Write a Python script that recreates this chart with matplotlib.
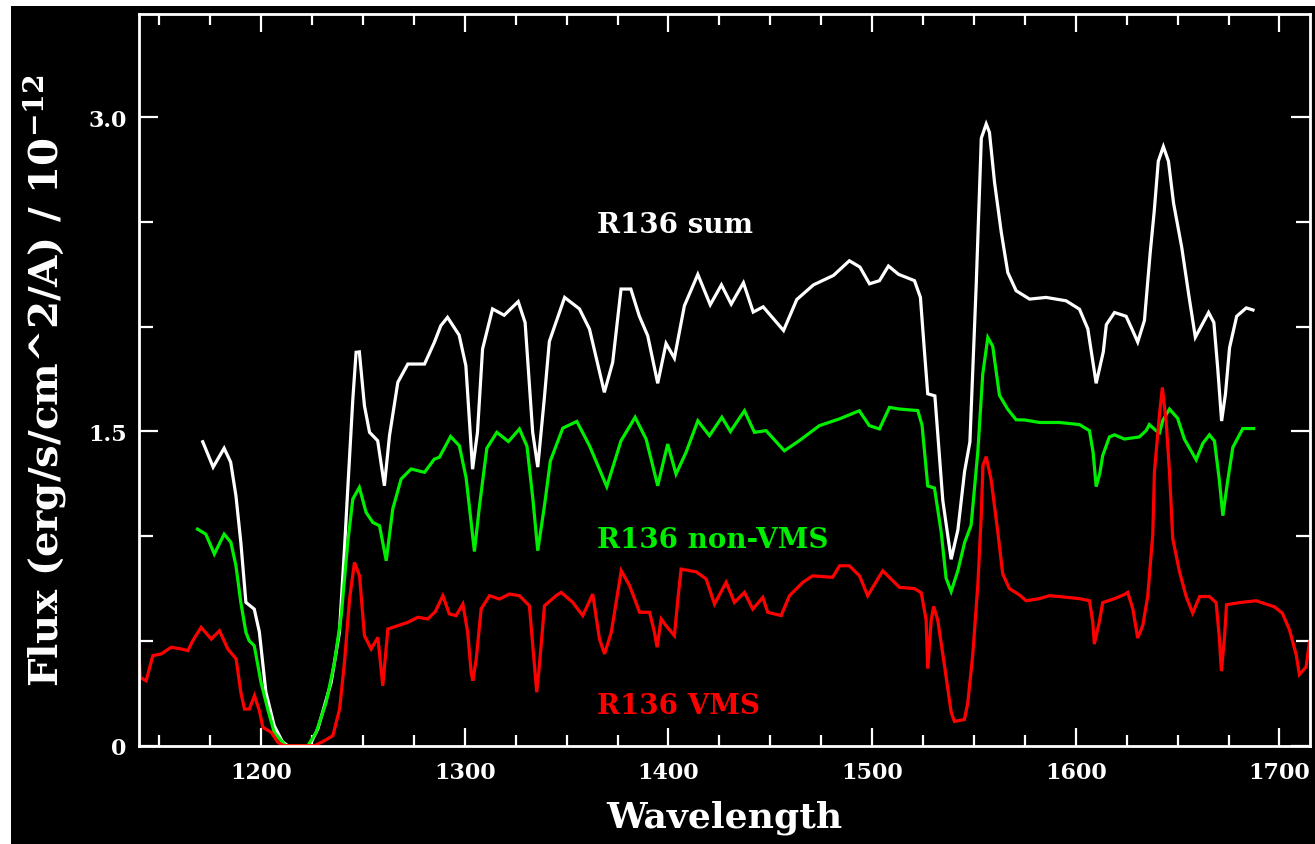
import numpy as np
import matplotlib
matplotlib.use("Agg")
import matplotlib.pyplot as plt
from matplotlib.patches import Rectangle
from matplotlib.ticker import MultipleLocator, FixedLocator

plt.rcParams['font.family'] = ['DejaVu Serif']
plt.rcParams['font.weight'] = 'bold'
plt.rcParams['mathtext.default'] = 'regular'

# R136 sum (white)
wl_sum = [1171.3, 1176.4, 1181.8, 1185.0, 1187.6, 1190.0, 1192.5, 1196.6, 1199.1,
          1202.3, 1206.4, 1210.5, 1213.0, 1223.7, 1227.8, 1234.3, 1238.4, 1240.9,
          1242.5, 1245.0, 1246.6, 1248.2, 1250.7, 1253.2, 1257.2, 1260.5, 1263.0,
          1267.1, 1272.0, 1280.2, 1285.0, 1288.2, 1291.5, 1297.2, 1300.5, 1303.8,
          1306.2, 1308.7, 1313.6, 1319.3, 1326.2, 1329.6, 1333.3, 1335.8, 1339.0,
          1341.5, 1349.0, 1356.3, 1361.2, 1368.5, 1372.6, 1376.7, 1381.5, 1385.7,
          1389.8, 1394.7, 1398.8, 1402.9, 1407.8, 1414.4, 1420.5, 1426.0, 1430.8,
          1436.8, 1441.6, 1446.5, 1456.5, 1463.0, 1471.2, 1481.0, 1488.8, 1494.0,
          1498.7, 1503.6, 1508.0, 1513.0, 1520.8, 1523.7, 1525.7, 1527.3, 1530.8,
          1534.7, 1538.8, 1542.1, 1545.4, 1548.0, 1551.1, 1553.6, 1556.0, 1557.6,
          1560.1, 1563.4, 1566.6, 1570.7, 1577.3, 1585.4, 1595.2, 1601.8, 1605.9,
          1610.0, 1613.5, 1615.0, 1619.0, 1624.7, 1628.0, 1630.4, 1633.7, 1636.5,
          1638.5, 1640.5, 1643.0, 1645.5, 1648.0, 1652.0, 1655.5, 1658.7, 1662.0,
          1665.2, 1667.8, 1669.7, 1671.6, 1673.5, 1675.5, 1679.0, 1683.7, 1687.0]
fl_sum = [1.451, 1.330, 1.420, 1.354, 1.193, 0.971, 0.684, 0.652, 0.543,
          0.256, 0.095, 0.018, 0.0, 0.0, 0.08, 0.30, 0.54, 0.94,
          1.225, 1.655, 1.878, 1.88, 1.623, 1.496, 1.456, 1.241, 1.48,
          1.735, 1.822, 1.822, 1.925, 2.005, 2.045, 1.96, 1.814, 1.32,
          1.496, 1.894, 2.085, 2.055, 2.12, 2.02, 1.497, 1.33, 1.655,
          1.93, 2.14, 2.085, 1.989, 1.687, 1.83, 2.18, 2.18, 2.05,
          1.957, 1.73, 1.92, 1.85, 2.10, 2.25, 2.105, 2.20, 2.108,
          2.21, 2.07, 2.095, 1.982, 2.13, 2.20, 2.245, 2.315, 2.285,
          2.205, 2.22, 2.29, 2.25, 2.22, 2.14, 1.88, 1.68, 1.67,
          1.17, 0.89, 1.03, 1.31, 1.45, 2.20, 2.90, 2.968, 2.928,
          2.689, 2.451, 2.259, 2.172, 2.132, 2.14, 2.124, 2.084, 1.99,
          1.73, 1.88, 2.01, 2.068, 2.05, 1.98, 1.927, 2.03, 2.35,
          2.55, 2.79, 2.86, 2.79, 2.59, 2.38, 2.15, 1.95, 2.01,
          2.068, 2.02, 1.80, 1.55, 1.68, 1.90, 2.05, 2.09, 2.08]

# R136 non-VMS (green)
wl_non = [1168.7, 1172.8, 1177.0, 1181.8, 1185.1, 1187.6, 1190.0, 1192.5, 1194.1,
          1196.6, 1199.9, 1203.2, 1206.4, 1210.5, 1212.0, 1222.9, 1227.0, 1231.9,
          1236.0, 1239.3, 1242.5, 1245.0, 1248.2, 1251.5, 1254.8, 1258.1, 1261.4,
          1264.6, 1268.7, 1273.6, 1280.2, 1285.0, 1287.5, 1293.0, 1297.3, 1300.6,
          1304.7, 1307.2, 1310.8, 1315.7, 1321.4, 1326.8, 1330.5, 1333.4, 1335.8,
          1339.1, 1342.0, 1348.1, 1355.0, 1361.2, 1369.7, 1376.7, 1383.6, 1389.0,
          1394.7, 1399.6, 1403.7, 1408.6, 1414.4, 1420.1, 1426.2, 1430.4, 1437.3,
          1442.2, 1447.9, 1456.9, 1464.2, 1474.1, 1483.9, 1493.7, 1498.6, 1503.6,
          1508.5, 1513.4, 1522.4, 1524.5, 1527.3, 1530.6, 1533.9, 1536.3, 1538.8,
          1542.1, 1545.4, 1548.6, 1551.9, 1554.3, 1556.8, 1559.2, 1562.5, 1566.6,
          1570.7, 1575.0, 1582.1, 1591.9, 1601.8, 1606.7, 1608.5, 1610.0, 1611.8,
          1613.2, 1616.5, 1619.0, 1623.9, 1631.2, 1634.5, 1636.1, 1639.4, 1641.1,
          1642.7, 1646.0, 1650.0, 1653.3, 1659.1, 1662.4, 1665.6, 1668.1, 1670.5,
          1672.2, 1674.6, 1677.1, 1682.0, 1687.3]
fl_non = [1.034, 1.01, 0.915, 1.01, 0.971, 0.859, 0.684, 0.541, 0.501,
          0.477, 0.303, 0.175, 0.064, 0.016, 0.0, 0.0, 0.064, 0.207,
          0.398, 0.621, 0.971, 1.178, 1.233, 1.114, 1.066, 1.05, 0.883,
          1.13, 1.273, 1.321, 1.305, 1.368, 1.377, 1.476, 1.432, 1.28,
          0.927, 1.146, 1.42, 1.496, 1.452, 1.512, 1.43, 1.178, 0.931,
          1.146, 1.36, 1.516, 1.548, 1.432, 1.237, 1.456, 1.568, 1.464,
          1.241, 1.44, 1.297, 1.40, 1.551, 1.48, 1.568, 1.50, 1.599,
          1.496, 1.504, 1.408, 1.456, 1.528, 1.56, 1.599, 1.528, 1.512,
          1.615, 1.607, 1.60, 1.53, 1.24, 1.23, 1.02, 0.80, 0.736,
          0.836, 0.97, 1.053, 1.405, 1.773, 1.949, 1.907, 1.673, 1.606,
          1.556, 1.555, 1.543, 1.543, 1.533, 1.504, 1.40, 1.237, 1.30,
          1.385, 1.474, 1.484, 1.464, 1.474, 1.504, 1.533, 1.504, 1.494,
          1.553, 1.607, 1.563, 1.464, 1.365, 1.444, 1.484, 1.454, 1.266,
          1.098, 1.266, 1.424, 1.514, 1.514]

# R136 VMS (red)
wl_vms = [1140.2, 1140.6, 1143.5, 1146.8, 1150.9, 1155.8, 1160.7, 1164.0, 1166.4,
          1170.5, 1175.5, 1179.5, 1183.6, 1187.7, 1190.0, 1191.8, 1194.2, 1196.7,
          1199.1, 1200.8, 1204.9, 1208.2, 1211.0, 1226.2, 1231.1, 1235.2, 1238.5,
          1240.9, 1243.4, 1245.8, 1248.3, 1250.7, 1254.0, 1257.3, 1259.7, 1262.2,
          1267.1, 1272.0, 1276.9, 1281.8, 1285.5, 1289.2, 1292.4, 1295.7, 1299.0,
          1301.4, 1303.1, 1303.9, 1305.6, 1308.0, 1312.1, 1317.0, 1321.9, 1326.8,
          1331.7, 1334.2, 1335.3, 1336.6, 1339.1, 1344.8, 1347.3, 1353.0, 1357.9,
          1362.8, 1366.1, 1368.6, 1371.9, 1376.8, 1380.9, 1385.8, 1390.7, 1393.1,
          1394.4, 1396.4, 1398.8, 1402.9, 1404.6, 1406.2, 1413.6, 1418.5, 1422.6,
          1428.3, 1432.4, 1437.3, 1441.4, 1446.3, 1448.7, 1455.3, 1459.4, 1466.0,
          1470.8, 1480.6, 1484.0, 1488.8, 1493.8, 1497.8, 1505.2, 1513.4, 1520.8,
          1524.1, 1526.5, 1527.3, 1529.0, 1530.2, 1532.2, 1535.5, 1538.8, 1540.4,
          1545.3, 1546.9, 1549.4, 1551.9, 1553.6, 1554.4, 1556.0, 1558.4, 1561.7,
          1564.1, 1567.4, 1572.3, 1575.6, 1582.1, 1587.0, 1591.9, 1601.8, 1606.7,
          1608.3, 1609.1, 1611.6, 1613.2, 1619.0, 1623.9, 1625.5, 1628.0, 1630.4,
          1632.9, 1635.3, 1637.8, 1638.6, 1641.1, 1642.5, 1644.4, 1646.0, 1647.6,
          1650.9, 1654.2, 1657.4, 1660.8, 1665.6, 1668.9, 1670.5, 1671.5, 1673.0,
          1674.0, 1680.3, 1688.5, 1697.5, 1701.4, 1704.9, 1708.2, 1709.8, 1713.1,
          1714.7, 1716.0]
fl_vms = [0.398, 0.326, 0.31, 0.43, 0.438, 0.47, 0.462, 0.454, 0.501,
          0.565, 0.509, 0.549, 0.462, 0.414, 0.255, 0.175, 0.175, 0.239,
          0.167, 0.088, 0.064, 0.016, 0.0, 0.0, 0.024, 0.048, 0.175,
          0.398, 0.70, 0.875, 0.811, 0.525, 0.462, 0.517, 0.286, 0.557,
          0.573, 0.589, 0.613, 0.605, 0.64, 0.716, 0.629, 0.621, 0.676,
          0.541, 0.35, 0.31, 0.414, 0.653, 0.716, 0.70, 0.724, 0.716,
          0.668, 0.382, 0.255, 0.382, 0.668, 0.716, 0.732, 0.684, 0.621,
          0.724, 0.509, 0.438, 0.541, 0.835, 0.764, 0.637, 0.637, 0.541,
          0.47, 0.605, 0.573, 0.525, 0.70, 0.843, 0.83, 0.796, 0.676,
          0.78, 0.684, 0.732, 0.652, 0.708, 0.637, 0.621, 0.716, 0.78,
          0.811, 0.804, 0.859, 0.859, 0.811, 0.716, 0.835, 0.756, 0.75,
          0.73, 0.60, 0.368, 0.60, 0.665, 0.60, 0.384, 0.16, 0.116,
          0.125, 0.2, 0.434, 0.769, 1.104, 1.338, 1.38, 1.271, 1.02,
          0.82, 0.75, 0.72, 0.692, 0.702, 0.716, 0.712, 0.702, 0.692,
          0.593, 0.485, 0.593, 0.683, 0.702, 0.722, 0.732, 0.653, 0.514,
          0.574, 0.712, 1.009, 1.306, 1.583, 1.71, 1.543, 1.306, 0.989,
          0.831, 0.712, 0.633, 0.712, 0.712, 0.683, 0.514, 0.356, 0.514,
          0.673, 0.683, 0.692, 0.663, 0.633, 0.554, 0.435, 0.34, 0.376,
          0.494, 0.52]

series = [(wl_sum, fl_sum, '#ffffff', 'R136 sum', 2.452),
          (wl_non, fl_non, '#00ee00', 'R136 non-VMS', 0.948),
          (wl_vms, fl_vms, '#ff0000', 'R136 VMS', 0.156)]

fig = plt.figure(figsize=(13.15, 8.45), dpi=100)
fig.patch.set_facecolor('white')
# black canvas, leaving the thin white margin at top and left
fig.patches.append(Rectangle((11 / 1315, 0), 1, 1 - 7 / 845, transform=fig.transFigure,
                             facecolor='black', edgecolor='none', zorder=-10))

ax = fig.add_axes([139 / 1315, 1 - 746.7 / 845, (1310 - 139) / 1315, (746.7 - 15) / 845])
ax.set_facecolor('black')

for wl, fl, color, label, ylab in series:
    ax.plot(wl, fl, color=color, lw=2.3, solid_joinstyle='miter')
    ax.text(1365.1, ylab, label, color=color, fontsize=20, fontweight='bold',
            ha='left', va='baseline')

ax.set_xlim(1140, 1715)
ax.set_ylim(0, 3.493)

ax.xaxis.set_major_locator(MultipleLocator(100))
ax.xaxis.set_minor_locator(MultipleLocator(25))
ax.yaxis.set_major_locator(FixedLocator([0, 1.5, 3.0]))
ax.yaxis.set_minor_locator(MultipleLocator(0.5))
ax.set_yticklabels(['0', '1.5', '3.0'])

for s in ax.spines.values():
    s.set_color('white')
    s.set_linewidth(2.0)

ax.tick_params(axis='both', which='both', direction='in', colors='white',
               top=True, right=True, width=1.6)
ax.tick_params(axis='x', which='major', length=13, pad=11, labelsize=16)
ax.tick_params(axis='x', which='minor', length=8)
ax.tick_params(axis='y', which='major', length=14, pad=9, labelsize=16)
ax.tick_params(axis='y', which='minor', length=10)
for lab in ax.get_xticklabels() + ax.get_yticklabels():
    lab.set_fontweight('bold')

ax.set_xlabel('Wavelength', color='white', fontsize=26, fontweight='bold', labelpad=12)
ax.set_ylabel(r'Flux (erg/s/cm^2/A) / 10$^{-12}$', color='white', fontsize=29,
              fontweight='bold', labelpad=14)

fig.savefig('out.png', dpi=100, facecolor=fig.get_facecolor())
